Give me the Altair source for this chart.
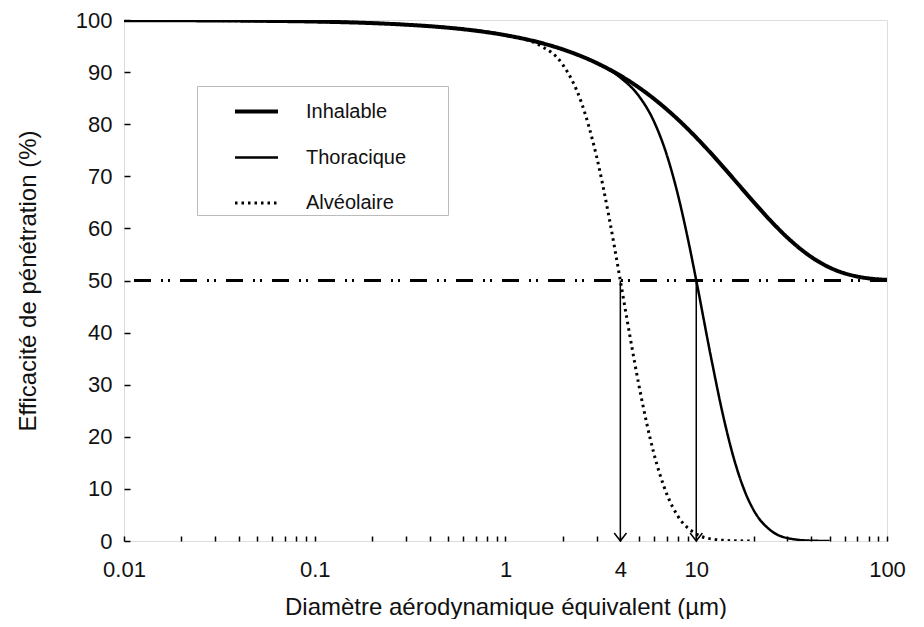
import altair as alt
import pandas as pd

# --- data ---
series_names = ["Inhalable", "Thoracique", "Alvéolaire"]

inh_d = [0.01, 0.02, 0.05, 0.1, 0.2, 0.3, 0.5, 0.7, 1, 1.5, 2, 3, 4, 5, 6, 8, 10,
         12, 15, 20, 25, 30, 40, 50, 60, 70, 80, 100]
inh_e = [99.97, 99.94, 99.85, 99.70, 99.40, 99.10, 98.52, 97.94, 97.09, 95.70, 94.35,
         91.76, 89.33, 87.04, 84.88, 80.94, 77.44, 74.34, 70.33, 65.06, 61.16, 58.26,
         54.54, 52.49, 51.37, 50.75, 50.41, 50.12]

tho_d = [0.01, 0.1, 0.3, 1, 2, 3, 4, 5, 6, 7, 8, 9, 10, 12, 14, 16, 18, 20, 25, 30,
         40, 50]
tho_e = [99.97, 99.70, 99.10, 97.09, 94.35, 91.72, 88.95, 85.42, 80.54, 74.16, 66.57,
         58.33, 50.03, 34.94, 23.22, 14.96, 9.46, 5.92, 1.82, 0.57, 0.06, 0.0]

alv_d = [0.01, 0.1, 0.3, 1, 1.5, 2, 2.5, 3, 3.5, 4, 4.5, 5, 6, 7, 8, 10, 12, 15, 20]
alv_e = [99.97, 99.70, 99.10, 97.07, 95.21, 91.38, 84.17, 73.85, 61.92, 49.97, 39.14,
         29.97, 16.77, 9.05, 4.81, 1.35, 0.39, 0.07, 0.0]

ref_level = 50
arrow_d = [4, 10]
arrow_top = [50, 50]
arrow_bottom = [0, 0]

x_ticks = [0.01, 0.02, 0.03, 0.04, 0.05, 0.06, 0.07, 0.08, 0.09,
           0.1, 0.2, 0.3, 0.4, 0.5, 0.6, 0.7, 0.8, 0.9,
           1, 2, 3, 4, 5, 6, 7, 8, 9,
           10, 20, 30, 40, 50, 60, 70, 80, 90, 100]
x_labels = [0.01, 0.1, 1, 4, 10, 100]
y_ticks = [0, 10, 20, 30, 40, 50, 60, 70, 80, 90, 100]

rows = []
for name, ds, es in zip(series_names, [inh_d, tho_d, alv_d], [inh_e, tho_e, alv_e]):
    for d, e in zip(ds, es):
        rows.append({"series": name, "D": d, "E": e})
curves = pd.DataFrame(rows)
arrows = pd.DataFrame({"D": arrow_d, "top": arrow_top, "bottom": arrow_bottom})

FONT = "Liberation Sans"
TXT = "#111111"

xscale = alt.Scale(type="log", domain=[0.01, 100], nice=False)
yscale = alt.Scale(domain=[0, 100], nice=False)

label_js = "[" + ",".join(str(v) for v in x_labels) + "]"

x_axis = alt.Axis(
    values=x_ticks,
    labelExpr=f"indexof({label_js}, datum.value) >= 0 ? '' + datum.value : ''",
    tickSize=5, offset=-5, domain=False, tickColor="black", tickWidth=1.5,
    labelFont=FONT, labelFontSize=22, labelColor=TXT, labelPadding=18,
    labelFlush=False, labelOverlap=False,
    title="Diamètre aérodynamique  équivalent (µm)", titleFont=FONT,
    titleFontSize=24, titleFontWeight="normal", titleColor=TXT, titlePadding=15,
    grid=False,
)
y_axis = alt.Axis(
    values=y_ticks, tickSize=6, offset=-6, domain=False, tickColor="black",
    tickWidth=1.5, labelFont=FONT, labelFontSize=22, labelColor=TXT,
    labelPadding=12, labelFlush=False,
    title="Efficacité de pénétration (%)", titleFont=FONT, titleFontSize=24,
    titleFontWeight="normal", titleColor=TXT, titlePadding=35, grid=False,
)

leg = alt.Legend(
    title="\u00a0", titleOrient="right", titlePadding=40, titleFontSize=4,
    orient="none", legendX=73, legendY=66,
    fillColor="white", strokeColor="#bbbbbb", padding=2,
    symbolType="stroke", symbolSize=1849, symbolOffset=34,
    labelFont=FONT, labelFontSize=20, labelColor=TXT, labelOffset=26,
    rowPadding=12.5,
)

lines = alt.Chart(curves).mark_line(interpolate="monotone", clip=True).encode(
    x=alt.X("D:Q", scale=xscale, axis=x_axis),
    y=alt.Y("E:Q", scale=yscale, axis=y_axis),
    color=alt.Color("series:N", scale=alt.Scale(domain=series_names,
                    range=["black", "black", "black"]), legend=leg),
    strokeDash=alt.StrokeDash("series:N", scale=alt.Scale(domain=series_names,
                    range=[[1, 0], [1, 0], [2.5, 4]]), legend=leg),
    strokeWidth=alt.StrokeWidth("series:N", scale=alt.Scale(type="ordinal",
                    domain=series_names, range=[4, 2.5, 3]), legend=leg),
    detail="series:N",
)

hline = alt.Chart(curves).mark_rule(
    color="black", strokeWidth=1.5, strokeDash=[17, 10, 2, 5, 2, 10]
).encode(y=alt.datum(ref_level, scale=yscale))

vlines = alt.Chart(arrows).mark_rule(color="black", strokeWidth=1.5).encode(
    x=alt.X("D:Q", scale=xscale), y=alt.Y("top:Q", scale=yscale), y2="bottom:Q"
)
heads = alt.Chart(arrows).mark_point(
    shape="M-1,-1.3L0,0L1,-1.3", filled=False, color="black", strokeWidth=1.5,
    size=150, opacity=1
).encode(x=alt.X("D:Q", scale=xscale), y=alt.Y("bottom:Q", scale=yscale))

chart = alt.layer(hline, vlines, heads, lines).properties(
    width=763, height=521,
    autosize=alt.AutoSizeParams(type="none"),
    padding={"left": 116, "top": 12, "right": 29, "bottom": 78},
).configure_view(stroke="black", strokeWidth=1.5).configure(background="white")

chart.save("out.html", embed_options={"renderer": "svg", "actions": False})
